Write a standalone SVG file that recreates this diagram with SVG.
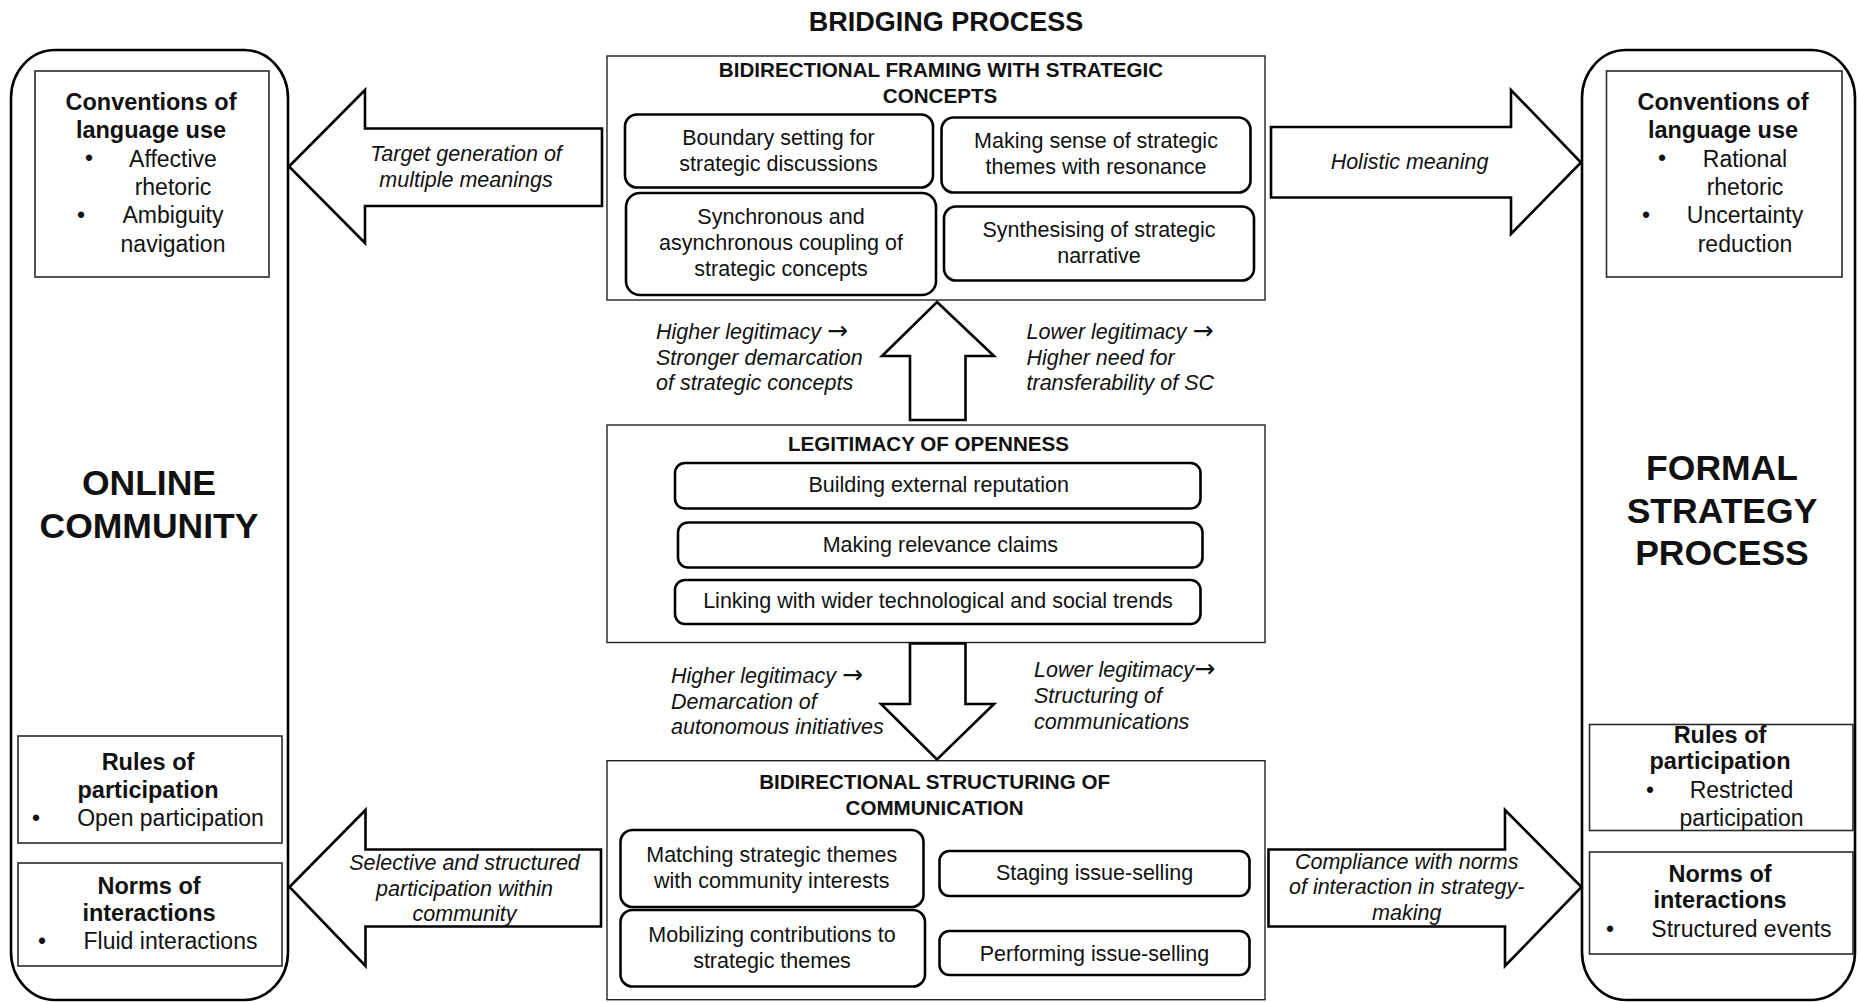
<svg xmlns="http://www.w3.org/2000/svg" width="1858" height="1002" viewBox="0 0 1858 1002">
<style>
text{font-family:"Liberation Sans",Arial,sans-serif;fill:#111}
.t{font-size:21.5px;text-anchor:middle}
.s{font-size:23px;text-anchor:middle}
.sb{font-size:23.5px;font-weight:bold;text-anchor:middle}
.i{font-size:21.5px;font-style:italic}
.ic{font-size:21.5px;font-style:italic;text-anchor:middle}
.h{font-size:20.6px;font-weight:bold;text-anchor:middle}
.big{font-size:35.5px;font-weight:bold;text-anchor:middle}
.title{font-size:27px;font-weight:bold;text-anchor:middle}
.ar{font-family:"DejaVu Sans",sans-serif;font-style:normal;font-size:25px}
.outer{fill:#fff;stroke:#000;stroke-width:2.6}
.frame{fill:#fff;stroke:#2a2a2a;stroke-width:1.6}
.main{fill:#fff;stroke:#222;stroke-width:1.4}
.sub{fill:#fff;stroke:#000;stroke-width:2.6}
.arrow{fill:#fff;stroke:#000;stroke-width:2.6;stroke-linejoin:miter}
</style>

<text class="title" x="946" y="31">BRIDGING PROCESS</text>

<g id="online-community">
  <rect class="outer" x="11" y="50" width="277" height="950" rx="44" ry="48"/>
  <text class="big" x="149" y="495">ONLINE</text>
  <text class="big" x="149" y="538">COMMUNITY</text>
</g>
<g id="oc-conventions">
  <rect class="frame" x="35" y="71" width="234" height="206"/>
  <text class="sb" x="151" y="110">Conventions of</text>
  <text class="sb" x="151" y="138">language use</text>
  <text class="s" x="89" y="166">•</text>
  <text class="s" x="173" y="166.5">Affective</text>
  <text class="s" x="173" y="194.5">rhetoric</text>
  <text class="s" x="81" y="222.5">•</text>
  <text class="s" x="173" y="223">Ambiguity</text>
  <text class="s" x="173" y="251.5">navigation</text>
</g>
<g id="oc-rules">
  <rect class="frame" x="18" y="736" width="264" height="107"/>
  <text class="sb" x="148" y="770">Rules of</text>
  <text class="sb" x="148" y="797.5">participation</text>
  <text class="s" x="36" y="825.5">•</text>
  <text class="s" x="170.5" y="825.7">Open participation</text>
</g>
<g id="oc-norms">
  <rect class="frame" x="18" y="863" width="264" height="103"/>
  <text class="sb" x="149" y="894">Norms of</text>
  <text class="sb" x="149" y="921">interactions</text>
  <text class="s" x="42" y="949">•</text>
  <text class="s" x="170.5" y="949.3">Fluid interactions</text>
</g>

<g id="formal-strategy">
  <rect class="outer" x="1582" y="50" width="273" height="950" rx="44" ry="48"/>
  <text class="big" x="1722" y="480">FORMAL</text>
  <text class="big" x="1722" y="522.5">STRATEGY</text>
  <text class="big" x="1722" y="565">PROCESS</text>
</g>
<g id="fs-conventions">
  <rect class="frame" x="1606.5" y="71" width="235.5" height="206"/>
  <text class="sb" x="1723" y="110">Conventions of</text>
  <text class="sb" x="1723" y="138">language use</text>
  <text class="s" x="1662" y="166">•</text>
  <text class="s" x="1745" y="166.5">Rational</text>
  <text class="s" x="1745" y="194.5">rhetoric</text>
  <text class="s" x="1646" y="222.5">•</text>
  <text class="s" x="1745" y="223">Uncertainty</text>
  <text class="s" x="1745" y="251.5">reduction</text>
</g>
<g id="fs-rules">
  <rect class="frame" x="1589.5" y="724.5" width="263.5" height="106"/>
  <text class="sb" x="1720" y="742.7">Rules of</text>
  <text class="sb" x="1720" y="769.3">participation</text>
  <text class="s" x="1650" y="798">•</text>
  <text class="s" x="1741.5" y="798.3">Restricted</text>
  <text class="s" x="1741.5" y="826">participation</text>
</g>
<g id="fs-norms">
  <rect class="frame" x="1589.5" y="852" width="263.5" height="102"/>
  <text class="sb" x="1720" y="881.7">Norms of</text>
  <text class="sb" x="1720" y="908.3">interactions</text>
  <text class="s" x="1610" y="936.5">•</text>
  <text class="s" x="1741.5" y="936.7">Structured events</text>
</g>

<g id="framing">
  <rect class="main" x="607" y="56" width="658" height="244"/>
  <text class="h" x="941" y="77.3">BIDIRECTIONAL FRAMING WITH STRATEGIC</text>
  <text class="h" x="940" y="102.7">CONCEPTS</text>
  <g id="framing-boundary">
    <rect class="sub" x="625" y="114.5" width="308" height="73" rx="12"/>
    <text class="t" x="778.5" y="145">Boundary setting for</text>
    <text class="t" x="778.5" y="170.7">strategic discussions</text>
  </g>
  <g id="framing-sense">
    <rect class="sub" x="941.5" y="117.5" width="309" height="75" rx="12"/>
    <text class="t" x="1096" y="148.3">Making sense of strategic</text>
    <text class="t" x="1096" y="174">themes with resonance</text>
  </g>
  <g id="framing-coupling">
    <rect class="sub" x="626" y="193" width="310" height="102" rx="14"/>
    <text class="t" x="781" y="224">Synchronous and</text>
    <text class="t" x="781" y="250">asynchronous coupling of</text>
    <text class="t" x="781" y="276">strategic concepts</text>
  </g>
  <g id="framing-narrative">
    <rect class="sub" x="944" y="206.5" width="310" height="74" rx="12"/>
    <text class="t" x="1099" y="237.3">Synthesising of strategic</text>
    <text class="t" x="1099" y="263.3">narrative</text>
  </g>
</g>

<g id="legitimacy">
  <rect class="main" x="607" y="425" width="658" height="217.5"/>
  <text class="h" x="928.5" y="450.7">LEGITIMACY OF OPENNESS</text>
  <g id="leg-reputation">
    <rect class="sub" x="675" y="463" width="525.5" height="45.5" rx="10"/>
    <text class="t" x="938.7" y="491.7">Building external reputation</text>
  </g>
  <g id="leg-relevance">
    <rect class="sub" x="678" y="522.5" width="524.5" height="45" rx="10"/>
    <text class="t" x="940.4" y="551.7">Making relevance claims</text>
  </g>
  <g id="leg-trends">
    <rect class="sub" x="675" y="580" width="525.5" height="44" rx="10"/>
    <text class="t" x="938" y="608.3">Linking with wider technological and social trends</text>
  </g>
</g>

<g id="structuring">
  <rect class="main" x="607" y="760.7" width="658" height="239"/>
  <text class="h" x="934.6" y="789">BIDIRECTIONAL STRUCTURING OF</text>
  <text class="h" x="934.6" y="815">COMMUNICATION</text>
  <g id="str-matching">
    <rect class="sub" x="620.5" y="830" width="303" height="77" rx="12"/>
    <text class="t" x="771.7" y="861.7">Matching strategic themes</text>
    <text class="t" x="771.7" y="888.3">with community interests</text>
  </g>
  <g id="str-mobilizing">
    <rect class="sub" x="620.5" y="910" width="304.5" height="76.5" rx="12"/>
    <text class="t" x="772" y="941.7">Mobilizing contributions to</text>
    <text class="t" x="772" y="968.3">strategic themes</text>
  </g>
  <g id="str-staging">
    <rect class="sub" x="939.5" y="851" width="310" height="45" rx="10"/>
    <text class="t" x="1094.5" y="880">Staging issue-selling</text>
  </g>
  <g id="str-performing">
    <rect class="sub" x="939.5" y="931" width="310" height="44" rx="10"/>
    <text class="t" x="1094.5" y="960.7">Performing issue-selling</text>
  </g>
</g>

<g id="connectors">
  <g id="arrow-target">
    <polygon class="arrow" points="289,166.5 365,90 365,128.5 602,128.5 602,206 365,206 365,243"/>
    <text class="ic" x="466" y="160.5">Target generation of</text>
    <text class="ic" x="466" y="186.5">multiple meanings</text>
  </g>
  <g id="arrow-holistic">
    <polygon class="arrow" points="1271,127 1511,127 1511,90 1581,162.5 1511,234 1511,197.5 1271,197.5"/>
    <text class="ic" x="1409.5" y="169">Holistic meaning</text>
  </g>
  <g id="arrow-up">
    <polygon class="arrow" points="937,302 994,356 965.5,356 965.5,420 910,420 910,356 882,356"/>
    <text class="i" x="656" y="338.5">Higher legitimacy <tspan class="ar">→</tspan></text>
    <text class="i" x="656" y="364.5">Stronger demarcation</text>
    <text class="i" x="656" y="390">of strategic concepts</text>
    <text class="i" x="1026.5" y="338.5">Lower legitimacy <tspan class="ar">→</tspan></text>
    <text class="i" x="1026.5" y="364.5">Higher need for</text>
    <text class="i" x="1026.5" y="390">transferability of SC</text>
  </g>
  <g id="arrow-down">
    <polygon class="arrow" points="910,643.5 965.5,643.5 965.5,704 994,704 937,759.5 881,704 910,704"/>
    <text class="i" x="671" y="683">Higher legitimacy <tspan class="ar">→</tspan></text>
    <text class="i" x="671" y="708.5">Demarcation of</text>
    <text class="i" x="671" y="734">autonomous initiatives</text>
    <text class="i" x="1034" y="677.3">Lower legitimacy<tspan class="ar">→</tspan></text>
    <text class="i" x="1034" y="703.3">Structuring of</text>
    <text class="i" x="1034" y="729.3">communications</text>
  </g>
  <g id="arrow-selective">
    <polygon class="arrow" points="289.5,887 365.5,810 365.5,849.5 601,849.5 601,926.5 365.5,926.5 365.5,966"/>
    <text class="ic" x="464.5" y="870">Selective and structured</text>
    <text class="ic" x="464.5" y="896">participation within</text>
    <text class="ic" x="464.5" y="920.7">community</text>
  </g>
  <g id="arrow-compliance">
    <polygon class="arrow" points="1268.5,849.5 1505,849.5 1505,810 1581.5,887 1505,966 1505,926.5 1268.5,926.5"/>
    <text class="ic" x="1406.7" y="869.3">Compliance with norms</text>
    <text class="ic" x="1406.7" y="894">of interaction in strategy-</text>
    <text class="ic" x="1406.7" y="920">making</text>
  </g>
</g>
</svg>
